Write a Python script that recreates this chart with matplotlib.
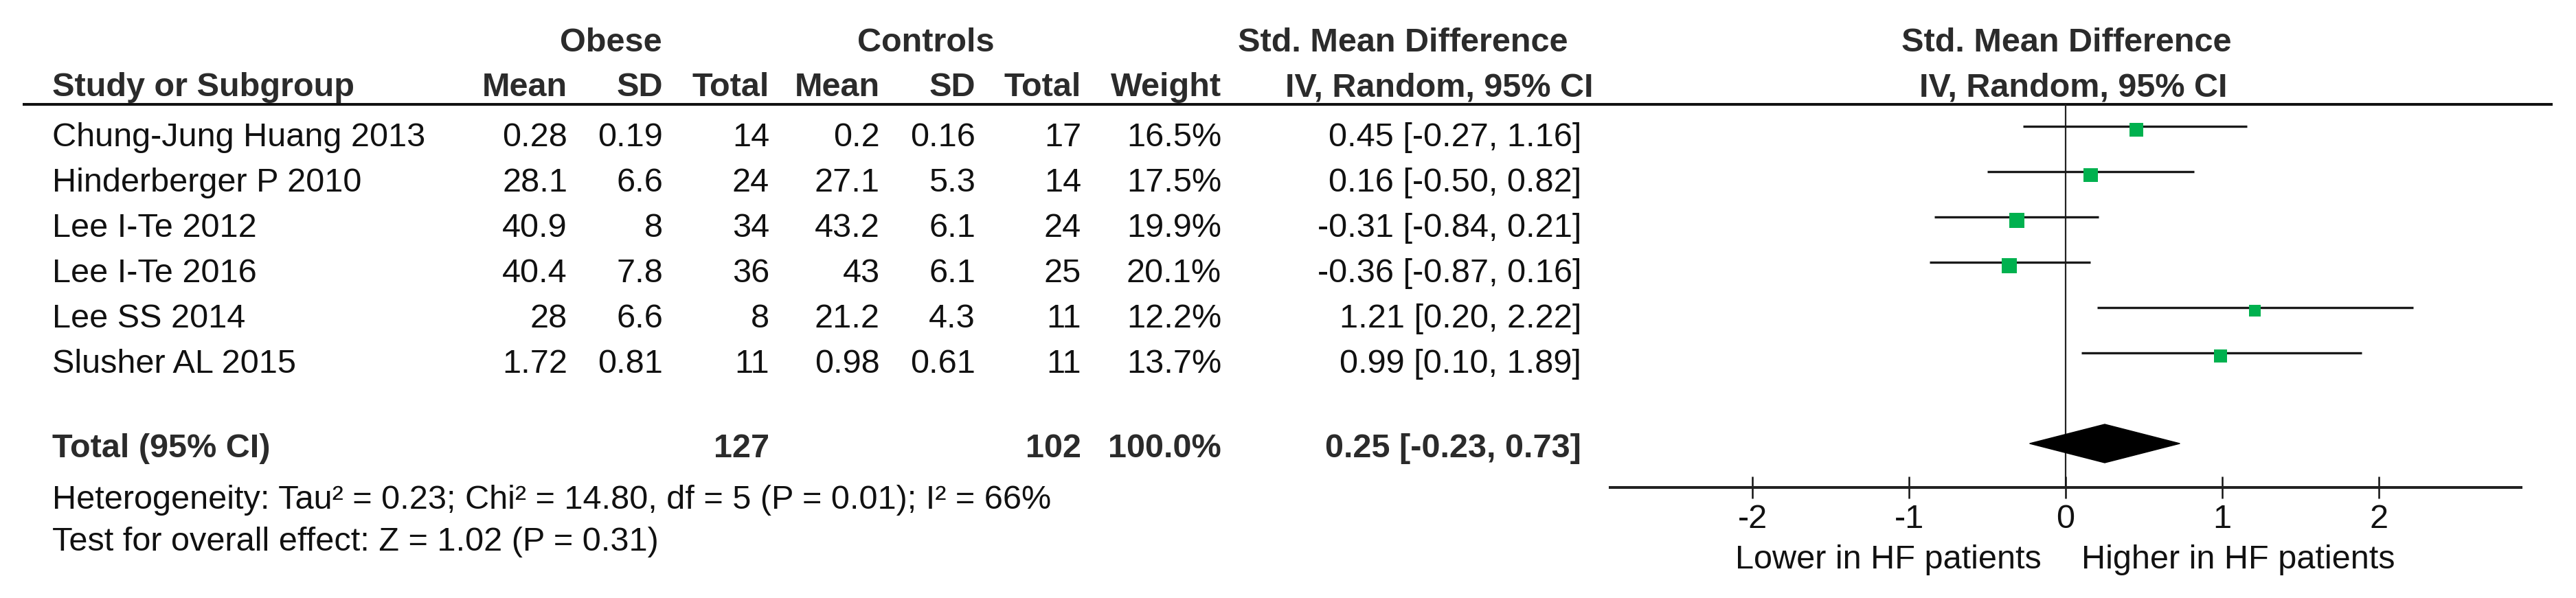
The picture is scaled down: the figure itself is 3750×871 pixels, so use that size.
"""
Forest plot: obese vs controls, Std. Mean Difference (IV, Random, 95% CI).
"""

import matplotlib
matplotlib.use("Agg")
import matplotlib.pyplot as plt
from matplotlib.patches import Polygon

# ── data ────────────────────────────────────────────────────────────────────
studies = ["Chung-Jung Huang 2013", "Hinderberger P 2010", "Lee I-Te 2012",
           "Lee I-Te 2016", "Lee SS 2014", "Slusher AL 2015"]
obese_mean = [0.28, 28.1, 40.9, 40.4, 28, 1.72]
obese_sd = [0.19, 6.6, 8, 7.8, 6.6, 0.81]
obese_n = [14, 24, 34, 36, 8, 11]
ctrl_mean = [0.2, 27.1, 43.2, 43, 21.2, 0.98]
ctrl_sd = [0.16, 5.3, 6.1, 6.1, 4.3, 0.61]
ctrl_n = [17, 14, 24, 25, 11, 11]
weight = [16.5, 17.5, 19.9, 20.1, 12.2, 13.7]
smd = [0.45, 0.16, -0.31, -0.36, 1.21, 0.99]
ci_lo = [-0.27, -0.50, -0.84, -0.87, 0.20, 0.10]
ci_hi = [1.16, 0.82, 0.21, 0.16, 2.22, 1.89]

total_obese = 127
total_ctrl = 102
total_weight = 100.0
total_smd = 0.25
total_lo = -0.23
total_hi = 0.73

heterogeneity = "Heterogeneity: Tau² = 0.23; Chi² = 14.80, df = 5 (P = 0.01); I² = 66%"
overall = "Test for overall effect: Z = 1.02 (P = 0.31)"
xticks = [-2, -1, 0, 1, 2]
favours = ("Lower in HF patients", "Higher in HF patients")

# ── style ───────────────────────────────────────────────────────────────────
W, H = 3750, 871
FS = 35
FONT = ["Liberation Sans", "DejaVu Sans"]
TXT = "#111111"
HDR = "#2b2b2b"
GREEN = "#00B14F"

plt.rcParams["font.family"] = FONT

fig = plt.figure(figsize=(W / 100, H / 100), dpi=100)
fig.patch.set_facecolor("white")

ax = fig.add_axes([0, 0, 1, 1])
ax.set_xlim(0, W)
ax.set_ylim(H, 0)
ax.axis("off")


def t(x, y, s, ha="right", bold=False, color=TXT):
    ax.text(x, y, s, ha=ha, va="baseline", fontsize=FS,
            fontweight="bold" if bold else "normal", color=color)


# ── headers ─────────────────────────────────────────────────────────────────
t(889, 75, "Obese", ha="center", bold=True, color=HDR)
t(1348, 75, "Controls", ha="center", bold=True, color=HDR)
t(2042, 75, "Std. Mean Difference", ha="center", bold=True, color=HDR)
t(3008, 75, "Std. Mean Difference", ha="center", bold=True, color=HDR)

t(76, 140, "Study or Subgroup", ha="left", bold=True, color=HDR)
cols = [826, 965, 1120, 1281, 1420, 1574, 1778]
for x, s in zip(cols, ["Mean", "SD", "Total", "Mean", "SD", "Total", "Weight"]):
    t(x, 140, s, bold=True, color=HDR)
t(2095, 140, "IV, Random, 95% CI", ha="center", bold=True, color=HDR)
t(3018, 140, "IV, Random, 95% CI", ha="center", bold=True, color=HDR)

ax.plot([33, 3716], [152, 152], color="#111111", lw=2.9, solid_capstyle="butt")

# ── study rows ──────────────────────────────────────────────────────────────
row_base = [213 + 65.9 * i for i in range(len(studies))]
for i, name in enumerate(studies):
    y = row_base[i]
    t(76, y, name, ha="left")
    vals = [f"{obese_mean[i]:g}", f"{obese_sd[i]:g}", f"{obese_n[i]}",
            f"{ctrl_mean[i]:g}", f"{ctrl_sd[i]:g}", f"{ctrl_n[i]}",
            f"{weight[i]:.1f}%"]
    for x, s in zip(cols, vals):
        t(x, y, s)
    t(2302, y, f"{smd[i]:.2f} [{ci_lo[i]:.2f}, {ci_hi[i]:.2f}]")

# ── total rows ──────────────────────────────────────────────────────────────
t(76, 666, "Total (95% CI)", ha="left", bold=True, color=HDR)
t(cols[2], 666, f"{total_obese}", bold=True, color=HDR)
t(cols[5], 666, f"{total_ctrl}", bold=True, color=HDR)
t(cols[6], 666, f"{total_weight:.1f}%", bold=True, color=HDR)
t(2302, 666, f"{total_smd:.2f} [{total_lo:.2f}, {total_hi:.2f}]", bold=True, color=HDR)
t(76, 741, heterogeneity, ha="left")
t(76, 802, overall, ha="left")

# ── forest panel ────────────────────────────────────────────────────────────
x0, x1 = 2344, 3670
axf = fig.add_axes([x0 / W, 0, (x1 - x0) / W, 1])
axf.set_xlim(-2.91, 2.91)
axf.set_ylim(H, 0)
axf.patch.set_alpha(0)
for side in ("top", "left", "right"):
    axf.spines[side].set_visible(False)
axf.spines["bottom"].set_position(("data", 710))
axf.spines["bottom"].set_linewidth(2.9)
axf.spines["bottom"].set_color("#222222")
axf.set_yticks([])
axf.set_xticks(xticks)
axf.set_xticklabels([f"{v}" for v in xticks])
axf.tick_params(axis="x", direction="inout", length=23, width=1.8,
                colors="#111111", labelsize=FS, pad=6)

axf.vlines(0, 152, 710, color="#222222", lw=1.6, zorder=1)

line_y = [b - 29 for b in row_base]
sq_y = [b - 24 for b in row_base]
axf.hlines(line_y, ci_lo, ci_hi, color="#1a1a1a", lw=2.4, zorder=2)
axf.scatter(smd, sq_y, s=[12.6 * w for w in weight], marker="s",
            color=GREEN, edgecolors="none", zorder=3)

yc, hh = 646, 28
diamond = Polygon([[total_lo, yc], [total_smd, yc - hh], [total_hi, yc],
                   [total_smd, yc + hh]], closed=True,
                  facecolor="black", edgecolor="black", lw=1, zorder=3)
axf.add_patch(diamond)

axf.text(-0.155, 828, favours[0], ha="right", va="baseline", fontsize=FS, color=TXT)
axf.text(0.10, 828, favours[1], ha="left", va="baseline", fontsize=FS, color=TXT)

fig.savefig("out.png", dpi=100, facecolor="white")
